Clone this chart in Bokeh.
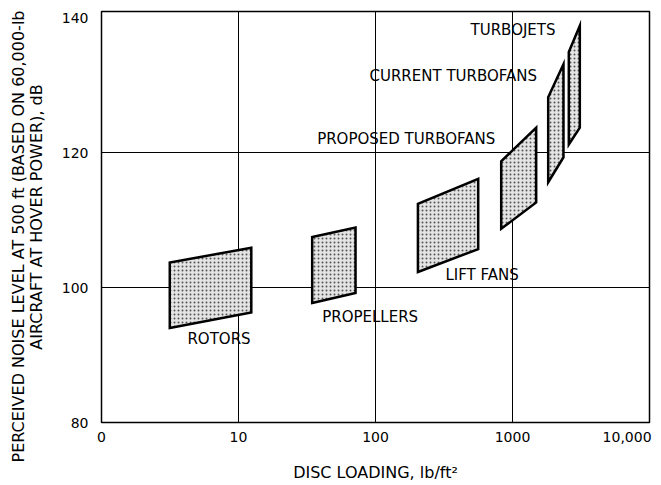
from bokeh.plotting import figure
from bokeh.models import ColumnDataSource, FixedTicker, Range1d, Title
from bokeh.core.properties import value
from bokeh.embed import file_html
from bokeh.resources import INLINE

# ---- data ----
categories = ["ROTORS", "PROPELLERS", "LIFT FANS", "PROPOSED TURBOFANS",
              "CURRENT TURBOFANS", "TURBOJETS"]
x_left = [3.15, 34.5, 204, 827, 1822, 2576]
x_right = [12.4, 71.5, 562, 1489, 2356, 3100]
y_left_low = [94.0, 97.7, 102.3, 108.7, 115.6, 121.2]
y_left_high = [103.7, 107.5, 112.4, 118.7, 128.2, 134.9]
y_right_low = [96.3, 99.2, 105.7, 112.6, 119.3, 123.7]
y_right_high = [105.9, 108.9, 116.1, 123.7, 133.1, 138.8]

label_x = [4.24, 40.8, 324, 37.5, 90.4, 494]
label_y = [92.4, 95.6, 101.8, 122.0, 131.4, 138.2]

x_ticks = [1, 10, 100, 1000, 10000]
x_tick_labels = ["0", "10", "100", "1000", "10,000"]
y_ticks = [80, 100, 120, 140]

y_title_lines = ["PERCEIVED NOISE LEVEL AT 500 ft (BASED ON 60,000-lb",
                 "AIRCRAFT AT HOVER POWER), dB"]
x_title = "DISC LOADING, lb/ft\u00b2"

FONT = "DejaVu Sans"

p = figure(width=660, height=484, x_axis_type="log",
           x_range=Range1d(1, 10000), y_range=Range1d(80, 140.9),
           output_backend="svg", toolbar_location=None,
           min_border_left=101, min_border_top=11, min_border_right=11,
           min_border_bottom=62)

p.outline_line_color = "black"
p.outline_line_width = 1.5
p.background_fill_color = "white"
p.border_fill_color = "white"

# grids
p.xgrid.ticker = FixedTicker(ticks=x_ticks[1:-1])
p.ygrid.ticker = FixedTicker(ticks=[100, 120])
for g in (p.xgrid, p.ygrid):
    g.grid_line_color = "black"
    g.grid_line_width = 1
    g.minor_grid_line_color = None

# axes
# the last label ends at the frame edge in the reference; a small
# no-break-space pad keeps it there when it is pushed inside the canvas
pad = "\u00a0" * 2
overrides = {t: l for t, l in zip(x_ticks, x_tick_labels)}
overrides[x_ticks[-1]] = x_tick_labels[-1] + pad
p.xaxis.ticker = FixedTicker(ticks=x_ticks)
p.xaxis.major_label_overrides = overrides
p.yaxis.ticker = FixedTicker(ticks=y_ticks)
for ax in (p.xaxis, p.yaxis):
    ax.axis_line_color = None
    ax.major_tick_line_color = None
    ax.minor_tick_line_color = None
    ax.major_tick_out = 0
    ax.major_tick_in = 0
    ax.minor_tick_out = 0
    ax.major_label_text_font = FONT
    ax.major_label_text_font_size = "14px"
    ax.major_label_text_color = "black"
p.xaxis.major_label_standoff = 6
p.yaxis.major_label_standoff = 13

p.xaxis.axis_label = x_title
p.xaxis.axis_label_text_font = FONT
p.xaxis.axis_label_text_font_size = "16px"
p.xaxis.axis_label_text_font_style = "normal"
p.xaxis.axis_label_text_color = "black"
p.xaxis.axis_label_standoff = 15

# y title: second line as the axis label, first line as a title beyond it
p.yaxis.axis_label = y_title_lines[1]
p.yaxis.axis_label_text_font = FONT
p.yaxis.axis_label_text_font_size = "16px"
p.yaxis.axis_label_text_font_style = "normal"
p.yaxis.axis_label_text_color = "black"
p.yaxis.axis_label_standoff = 13

t1 = Title(text=y_title_lines[0], align="left", offset=-40, standoff=-9,
           text_font=FONT, text_font_size="16px", text_font_style="normal",
           text_color="black")
p.add_layout(t1, "left")

# regions
xs = [[a, b, b, a] for a, b in zip(x_left, x_right)]
ys = [[ll, rl, rh, lh] for ll, rl, rh, lh in
      zip(y_left_low, y_right_low, y_right_high, y_left_high)]
src = ColumnDataSource(dict(xs=xs, ys=ys, name=categories))
p.patches("xs", "ys", source=src, fill_color="#e4e4e4",
          hatch_pattern="dot", hatch_color="#555555", hatch_scale=4,
          hatch_weight=1, line_color="black", line_width=2.5,
          line_join="miter")

lsrc = ColumnDataSource(dict(x=label_x, y=label_y, text=categories))
p.text("x", "y", text="text", source=lsrc, text_font=value(FONT),
       text_font_size="15px", text_align="left", text_baseline="middle",
       text_color="black")

open("out.html", "w").write(file_html(p, INLINE))
